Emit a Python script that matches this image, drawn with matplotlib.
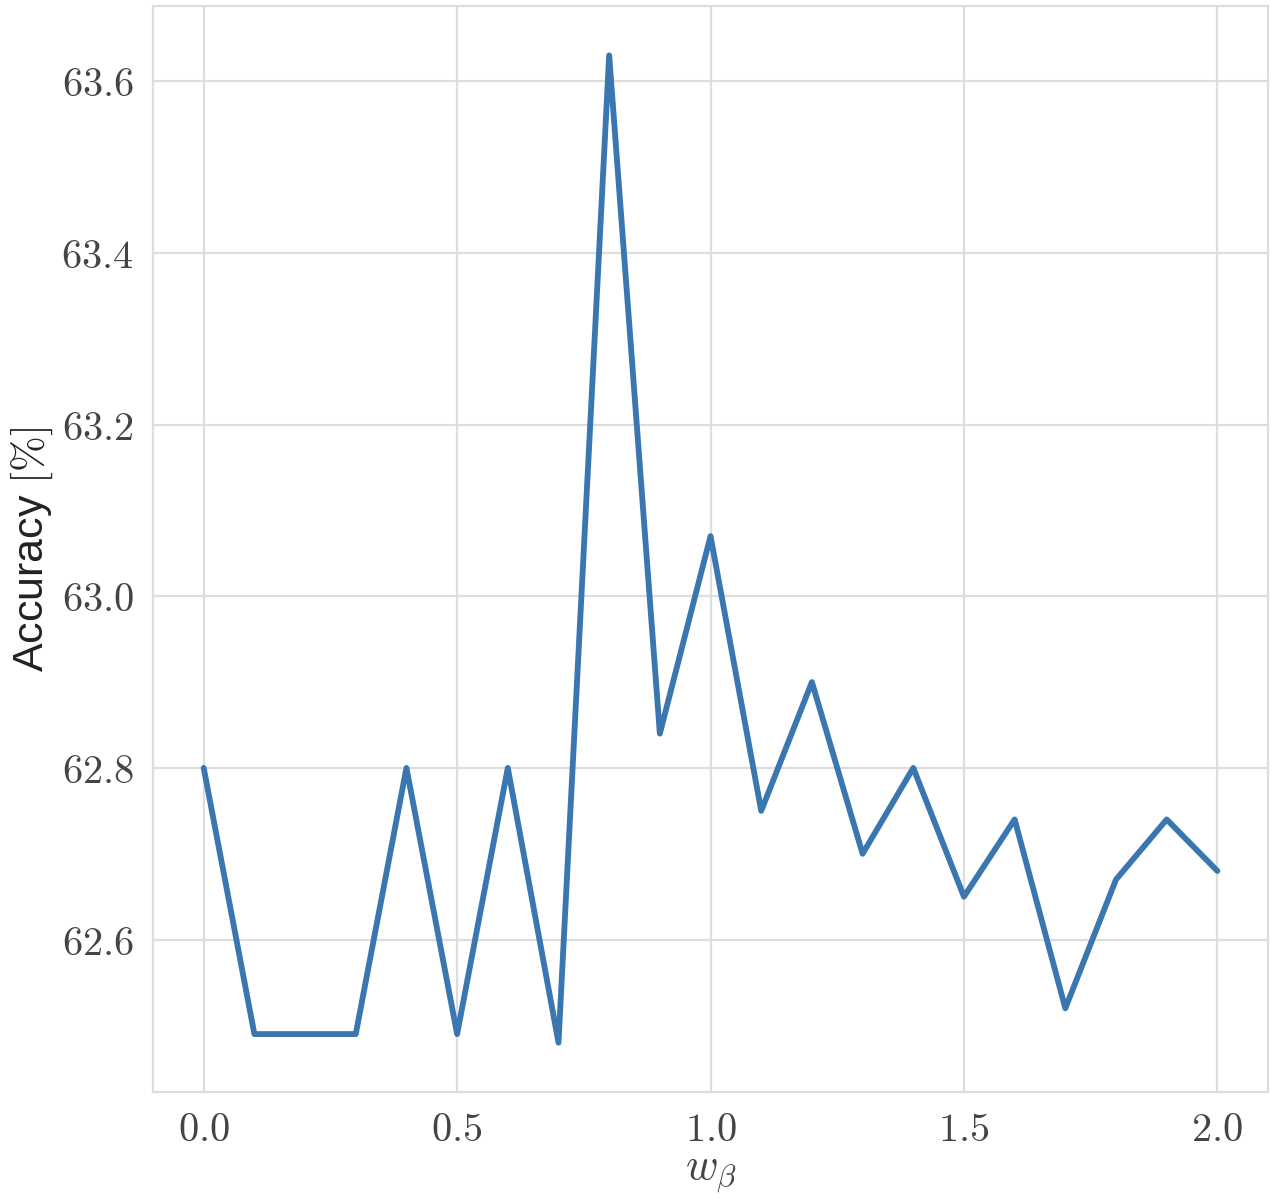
import numpy as np
import matplotlib
matplotlib.use("Agg")
import matplotlib.pyplot as plt
import seaborn as sns

# Accuracy vs w_beta
w_beta = [0.0, 0.1, 0.2, 0.3, 0.4, 0.5, 0.6, 0.7, 0.8, 0.9, 1.0,
          1.1, 1.2, 1.3, 1.4, 1.5, 1.6, 1.7, 1.8, 1.9, 2.0]
accuracy = [62.80, 62.49, 62.49, 62.49, 62.80, 62.49, 62.80, 62.48, 63.63, 62.84, 63.07,
            62.75, 62.90, 62.70, 62.80, 62.65, 62.74, 62.52, 62.67, 62.74, 62.68]

x_ticks = [0.0, 0.5, 1.0, 1.5, 2.0]
y_ticks = [62.6, 62.8, 63.0, 63.2, 63.4, 63.6]

sns.set_style("whitegrid")
plt.rcParams['mathtext.fontset'] = 'cm'
plt.rcParams['font.family'] = ['Liberation Sans', 'DejaVu Sans']

fig = plt.figure(figsize=(6.36, 6.01), dpi=200)
ax = fig.add_axes([0.1203, 0.0915, 0.8766, 0.9035])

ax.plot(w_beta, accuracy, color='#3a76b0', linewidth=2.1)

ax.set_xticks(x_ticks)
ax.set_xticklabels([f'${t:.1f}$' for t in x_ticks], fontsize=14.5, color='#444444')
ax.set_yticks(y_ticks)
ax.set_yticklabels([f'${t:.1f}$' for t in y_ticks], fontsize=14.5, color='#444444')

ax.set_xlabel(r'$w_\beta$', fontsize=16, color='#444444', labelpad=2)
ax.set_ylabel(r'Accuracy $[\%]$', fontsize=15.5, color='#222222')
ax.yaxis.set_label_coords(-0.088, 0.5)

ax.grid(True, color='#dddddd', linewidth=0.8)
for s in ax.spines.values():
    s.set_color('#dddddd')
    s.set_linewidth(0.8)
ax.tick_params(axis='both', length=0, pad=7)

fig.savefig('out.png', dpi=200)
